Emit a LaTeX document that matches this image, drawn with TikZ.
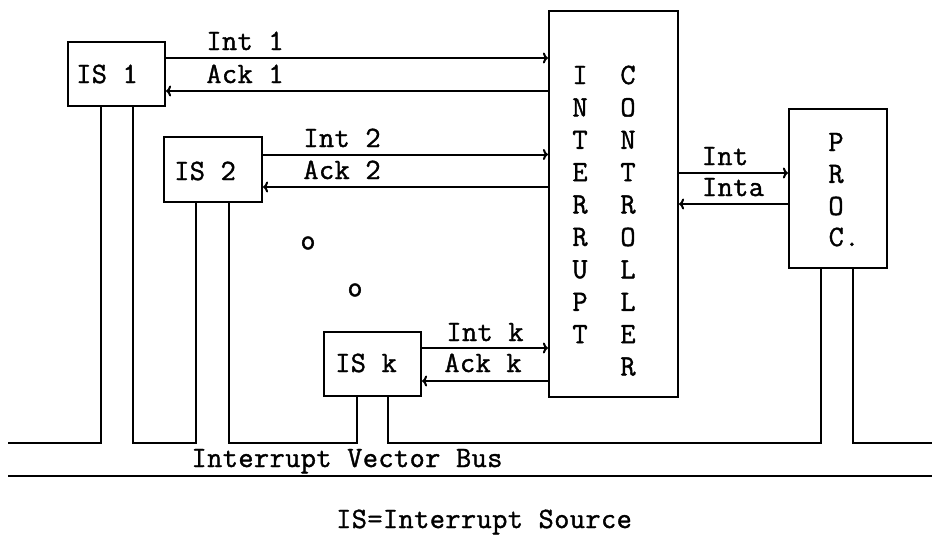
\documentclass[tikz,border=0pt]{standalone}
\usepackage{fontspec}
\setmonofont{Latin Modern Mono}[LetterSpace=1.4,FakeBold=1.3]
\usetikzlibrary{arrows.meta}
\begin{document}
\begin{tikzpicture}[x=1pt,y=-1pt,
  txt/.style={font=\ttfamily\fontsize{29.5}{33}\selectfont, inner sep=0pt},
  box/.style={draw, line width=2.2pt, inner sep=0pt},
  wire/.style={line width=2pt},
  sig/.style={line width=2pt, -{Computer Modern Rightarrow[length=5pt,width=11pt]}}]
\useasboundingbox (0,0) rectangle (932,538);

% boxes
\node[box, minimum width=97pt, minimum height=64pt] (is1) at (116.5,74) {};
\node[box, minimum width=98pt, minimum height=65pt] (is2) at (213,169.5) {};
\node[box, minimum width=97pt, minimum height=64pt] (isk) at (372.5,364) {};
\node[box, minimum width=129pt, minimum height=386pt] (ctrl) at (613.5,204) {};
\node[box, minimum width=98pt, minimum height=159pt] (proc) at (838,188.5) {};

% box texts
\node[txt, anchor=base] (is1t) at (107,83) {IS 1};
\node[txt, anchor=base] (is2t) at (205,180) {IS 2};
\node[txt, anchor=base] (iskt) at (366,372) {IS k};

\foreach \c [count=\i] in {I,N,T,E,R,R,U,P,T}
  \node[txt] (cl\i) at (580,{75+32.4*(\i-1)}) {\c};
\foreach \c [count=\i] in {C,O,N,T,R,O,L,L,E,R}
  \node[txt] (cr\i) at (628,{75+32.4*(\i-1)}) {\c};

\node[txt] (p1) at (836,142) {P};
\node[txt] (p2) at (836,174) {R};
\node[txt] (p3) at (836,206) {O};
\node[txt, anchor=west] (p4) at (828.5,237) {C.};

% signal coordinates
\coordinate (i1) at ([yshift=16pt]is1.east);
\coordinate (a1) at ([yshift=-17pt]is1.east);
\coordinate (i2) at ([yshift=15pt]is2.east);
\coordinate (a2) at ([yshift=-17.5pt]is2.east);
\coordinate (ik) at ([yshift=16pt]isk.east);
\coordinate (ak) at ([yshift=-17pt]isk.east);
\coordinate (pi) at ([yshift=15.5pt]proc.west);
\coordinate (pa) at ([yshift=-15.5pt]proc.west);

\draw[sig] (i1) -- (i1 -| ctrl.west);
\draw[sig] (a1 -| ctrl.west) -- (a1);
\draw[sig] (i2) -- (i2 -| ctrl.west);
\draw[sig] (a2 -| ctrl.west) -- (a2);
\draw[sig] (ik) -- (ik -| ctrl.west);
\draw[sig] (ak -| ctrl.west) -- (ak);
\draw[sig] (pi -| ctrl.east) -- (pi);
\draw[sig] (pa) -- (pa -| ctrl.east);

% signal labels
\node[txt, anchor=base] (li1) at (245,50) {Int 1};
\node[txt, anchor=base] (la1) at (245,83) {Ack 1};
\node[txt, anchor=base] (li2) at (342,147) {Int 2};
\node[txt, anchor=base] (la2) at (342,179) {Ack 2};
\node[txt, anchor=base] (lik) at (485,341) {Int k};
\node[txt, anchor=base] (lak) at (483,372) {Ack k};
\node[txt, anchor=base] (lpi) at (725,165) {Int};
\node[txt, anchor=base] (lpa) at (733,196) {Inta};

% dots
\node[txt] (d1) at (308,243) {o};
\node[txt] (d2) at (355,290) {o};

% bus
\coordinate (busL) at (8,443);
\coordinate (l1) at (101,443);
\coordinate (l2) at (133,443);
\coordinate (l3) at (196,443);
\coordinate (l4) at (229,443);
\coordinate (l5) at (357,443);
\coordinate (l6) at (388,443);
\coordinate (l7) at (821,443);
\coordinate (l8) at (853,443);
\coordinate (busR) at (932,443);
\coordinate (lowL) at (8,475.5);
\coordinate (lowR) at (932,475.5);

\draw[wire] (busL) -- (l1) -- (l1 |- is1.south);
\draw[wire] (l2 |- is1.south) -- (l2) -- (l3) -- (l3 |- is2.south);
\draw[wire] (l4 |- is2.south) -- (l4) -- (l5) -- (l5 |- isk.south);
\draw[wire] (l6 |- isk.south) -- (l6) -- (l7) -- (l7 |- proc.south);
\draw[wire] (l8 |- proc.south) -- (l8) -- (busR);
\draw[wire] (lowL) -- (lowR);

\node[txt, anchor=base] (bus) at (347,467) {Interrupt Vector Bus};
\node[txt, anchor=base] (cap) at (484,528) {IS=Interrupt Source};
\end{tikzpicture}
\end{document}
